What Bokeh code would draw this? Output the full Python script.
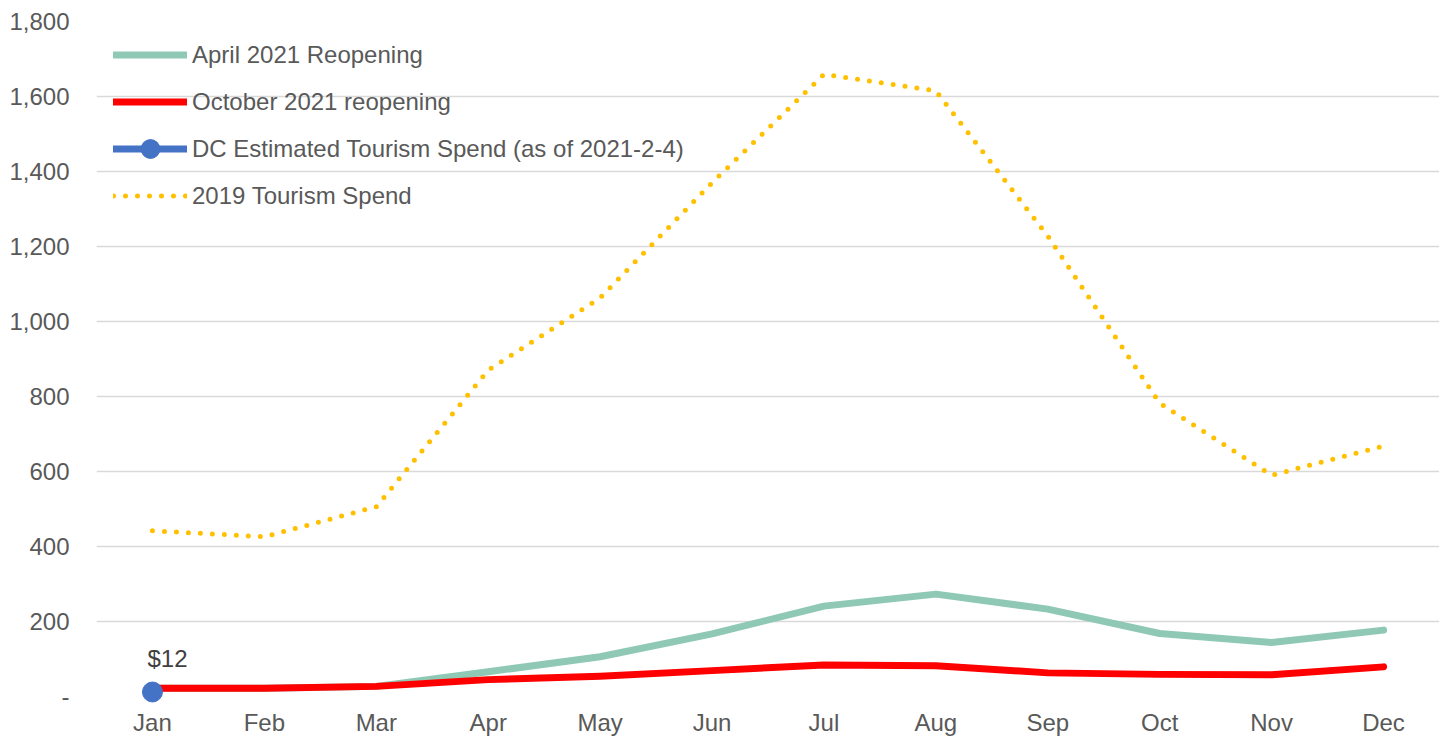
from bokeh.plotting import figure
from bokeh.models import FactorRange, Range1d, Legend, LegendItem, ColumnDataSource
from bokeh.core.properties import value
from bokeh.embed import file_html
from bokeh.resources import INLINE

months = ["Jan", "Feb", "Mar", "Apr", "May", "Jun", "Jul", "Aug", "Sep", "Oct", "Nov", "Dec"]
april_reopening = [22, 22, 27, 66, 106, 167, 241, 273, 233, 168, 144, 177]
october_reopening = [22, 22, 27, 45, 54, 69, 84, 82, 63, 59, 58, 79]
dc_months = ["Jan"]
dc_estimated = [12]
dc_labels = ["$12"]
spend_2019 = [442, 426, 506, 870, 1063, 1370, 1659, 1615, 1228, 782, 590, 668]
y_ticks = [0, 200, 400, 600, 800, 1000, 1200, 1400, 1600, 1800]
y_tick_labels = ["-", "200", "400", "600", "800", "1,000", "1,200", "1,400", "1,600", "1,800"]

FONT = "Liberation Sans"
TXT = "#595959"

p = figure(x_range=FactorRange(*months), y_range=Range1d(0, 1800),
           width=1439, height=738, output_backend="svg", toolbar_location=None,
           min_border_left=96, min_border_right=0, min_border_top=21, min_border_bottom=38)
p.outline_line_color = None
p.background_fill_color = "white"

p.xgrid.grid_line_color = None
p.ygrid.grid_line_color = "#D9D9D9"
p.ygrid.grid_line_width = 1.5
p.yaxis.ticker = y_ticks
p.yaxis.major_label_overrides = {t: l for t, l in zip(y_ticks, y_tick_labels)}

for ax in (p.xaxis, p.yaxis):
    ax.axis_line_color = None
    ax.major_tick_line_color = None
    ax.minor_tick_line_color = None
    ax.major_label_text_font = FONT
    ax.major_label_text_font_size = "24px"
    ax.major_label_text_color = TXT
p.xaxis.major_label_standoff = 6
p.yaxis.major_label_standoff = 21

r_apr = p.line(months, april_reopening, line_color="#8FC9B5", line_width=7, line_join="round", line_cap="round")
r_oct = p.line(months, october_reopening, line_color="#FF0000", line_width=7, line_join="round", line_cap="round")
r_dc_line = p.line(dc_months, dc_estimated, line_color="#4472C4", line_width=7, line_cap="round")
r_dc_pt = p.scatter(dc_months, dc_estimated, size=20, fill_color="#4472C4", line_color="#4472C4", level="overlay")
r_2019 = p.line(months, spend_2019, line_color="#FFC000", line_width=5, line_dash="0 12", line_cap="round", line_join="round")

src = ColumnDataSource(dict(x=dc_months, y=dc_estimated, t=dc_labels))
p.text(x="x", y="y", text="t", source=src, x_offset=15, y_offset=-34,
       text_align="center", text_baseline="alphabetic",
       text_font=value(FONT), text_font_size="24px", text_color="#404040", level="overlay")

legend = Legend(items=[
    LegendItem(label="April 2021 Reopening", renderers=[r_apr]),
    LegendItem(label="October 2021 reopening", renderers=[r_oct]),
    LegendItem(label="DC Estimated Tourism Spend (as of 2021-2-4)", renderers=[r_dc_line, r_dc_pt]),
    LegendItem(label="2019 Tourism Spend", renderers=[r_2019]),
])
legend.location = (17, 477)
legend.margin = 0
legend.padding = 0
legend.spacing = 0
legend.glyph_width = 74
legend.glyph_height = 47
legend.label_height = 20
legend.label_standoff = 5
legend.label_text_font = FONT
legend.label_text_font_size = "24px"
legend.label_text_color = TXT
legend.border_line_color = None
legend.background_fill_alpha = 0
p.add_layout(legend)

open("out.html", "w").write(file_html(p, INLINE))
